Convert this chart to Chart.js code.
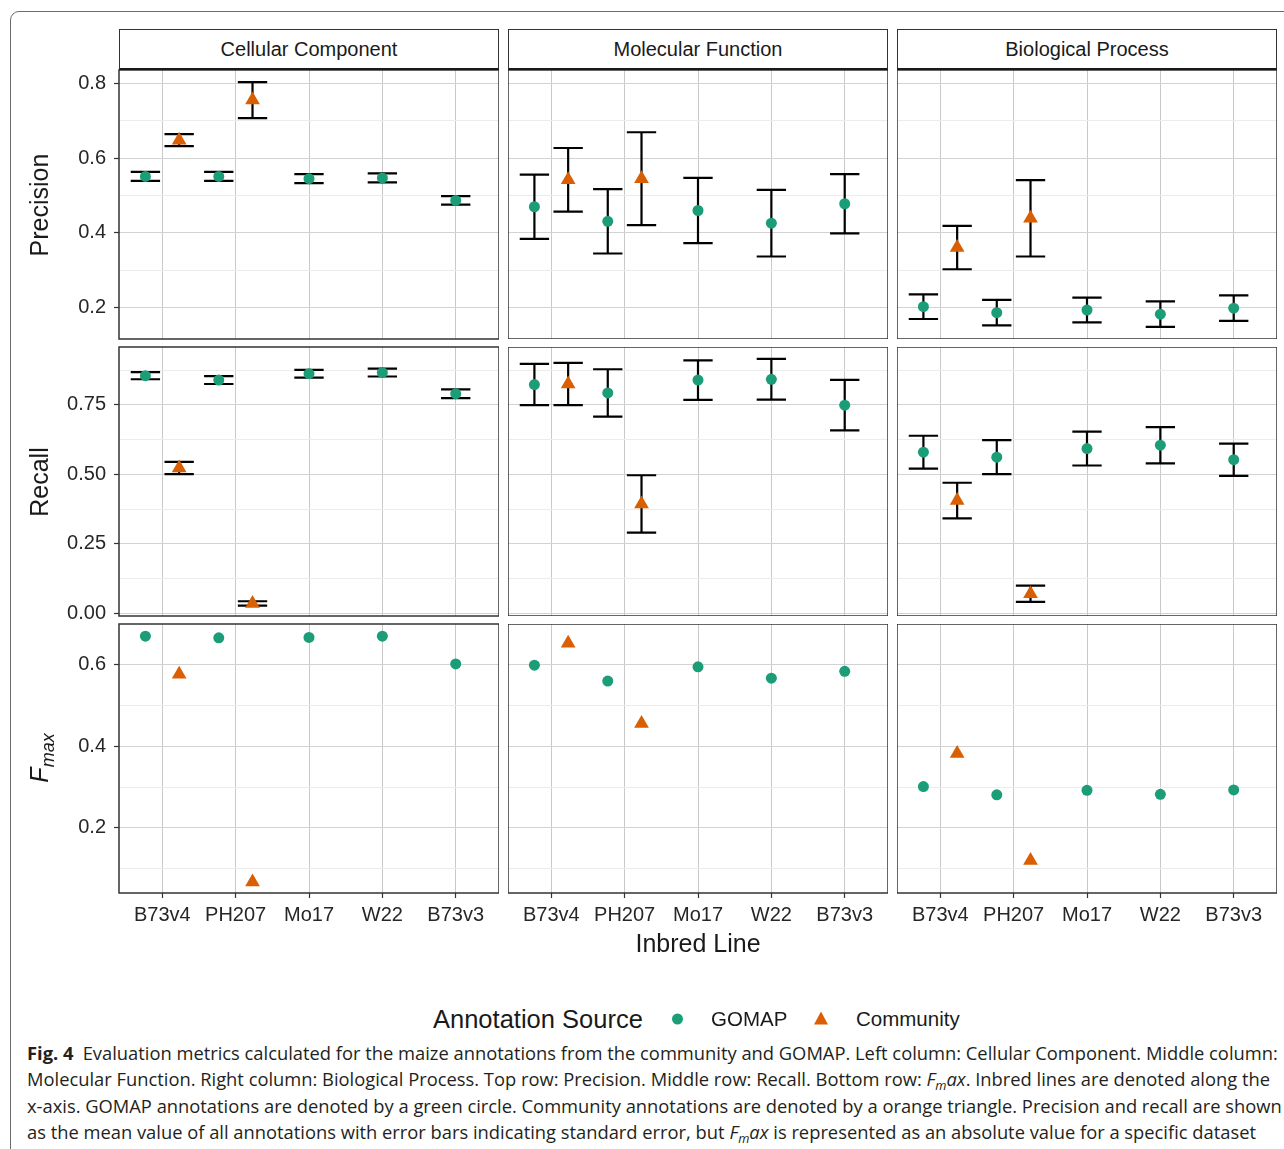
<!DOCTYPE html>
<html>
<head>
<meta charset="utf-8">
<script src="https://cdn.jsdelivr.net/npm/chart.js@4.4.1/dist/chart.umd.min.js"></script>
<style>
  html, body { margin: 0; padding: 0; background: #fff; }
  body { width: 1284px; height: 1149px; position: relative; overflow: hidden;
         font-family: 'Liberation Sans', Arial, sans-serif; color: #1a1a1a; }
  .frame { position: absolute; left: 10px; top: 11px; width: 1400px; height: 1300px;
           border: 1.5px solid #6b6b6b; border-radius: 9px; }
  canvas { position: absolute; }
  .strip { position: absolute; top: 29px; height: 41px; width: 380px; box-sizing: border-box;
           border: 1.4px solid #333; border-bottom: 2px solid #1a1a1a; background: #fff;
           font-size: 20px; line-height: 39px; text-align: center; }
  .ytitle { position: absolute; left: 39px; transform: translate(-50%, -50%) rotate(-90deg);
            font-size: 25px; white-space: nowrap; }
  .ytitle sub { font-size: 18px; vertical-align: baseline; position: relative; top: 0.35em; }
  .xtitle { position: absolute; left: 698px; top: 943px; transform: translate(-50%, -50%);
            font-size: 25px; white-space: nowrap; }
  .legend { position: absolute; top: 1019px; transform: translateY(-50%); white-space: nowrap; }
  .caption { position: absolute; left: 27px; height: 26px; line-height: 26px; white-space: nowrap;
             font-family: 'Open Sans', sans-serif; color: #231f20; }
  .caption sub { font-size: 0.7em; vertical-align: baseline; position: relative; top: 0.3em; line-height: 0; }
</style>
</head>
<body>
<div class="frame"></div>
<div id="charts"></div>

<div class="ytitle" style="top:205px">Precision</div>
<div class="ytitle" style="top:482px">Recall</div>
<div class="ytitle" style="top:758px"><i>F</i><sub><i>max</i></sub></div>
<div class="xtitle">Inbred Line</div>

<div class="legend" style="left:433px;font-size:25.5px">Annotation Source</div>
<div class="legend" style="left:672px;width:11px;height:11px;border-radius:50%;background:#1b9e77"></div>
<div class="legend" style="left:711px;font-size:20.5px">GOMAP</div>
<div class="legend" style="left:814px;width:0;height:0;border-left:7.5px solid transparent;border-right:7.5px solid transparent;border-bottom:13px solid #d95f02;margin-top:-1px"></div>
<div class="legend" style="left:856px;font-size:20.5px">Community</div>

<div class="caption" style="top:1040px"><b>Fig. 4</b>&ensp;Evaluation metrics calculated for the maize annotations from the community and GOMAP. Left column: Cellular Component. Middle column:</div>
<div class="caption" style="top:1066px">Molecular Function. Right column: Biological Process. Top row: Precision. Middle row: Recall. Bottom row: <i>F<sub>m</sub>ax</i>. Inbred lines are denoted along the</div>
<div class="caption" style="top:1093px">x-axis. GOMAP annotations are denoted by a green circle. Community annotations are denoted by a orange triangle. Precision and recall are shown</div>
<div class="caption" style="top:1119px">as the mean value of all annotations with error bars indicating standard error, but <i>F<sub>m</sub>ax</i> is represented as an absolute value for a specific dataset</div>

<script>
// --- data ---
const LINES = ['B73v4', 'PH207', 'Mo17', 'W22', 'B73v3'];
const COMMUNITY_LINES = ['B73v4', 'PH207'];
const ONTOLOGIES = ['Cellular Component', 'Molecular Function', 'Biological Process'];

// precision (mean, standard error)
const ccPrecisionGomap = [0.551, 0.551, 0.545, 0.547, 0.487];
const ccPrecisionGomapSe = [0.012, 0.012, 0.012, 0.012, 0.0115];
const ccPrecisionCommunity = [0.648, 0.755];
const ccPrecisionCommunitySe = [0.016, 0.048];
const mfPrecisionGomap = [0.470, 0.431, 0.460, 0.426, 0.478];
const mfPrecisionGomapSe = [0.086, 0.086, 0.087, 0.089, 0.079];
const mfPrecisionCommunity = [0.542, 0.545];
const mfPrecisionCommunitySe = [0.085, 0.124];
const bpPrecisionGomap = [0.203, 0.187, 0.194, 0.183, 0.199];
const bpPrecisionGomapSe = [0.033, 0.034, 0.033, 0.034, 0.034];
const bpPrecisionCommunity = [0.361, 0.439];
const bpPrecisionCommunitySe = [0.058, 0.102];

// recall (mean, standard error)
const ccRecallGomap = [0.855, 0.839, 0.862, 0.866, 0.790];
const ccRecallGomapSe = [0.013, 0.014, 0.014, 0.014, 0.016];
const ccRecallCommunity = [0.523, 0.036];
const ccRecallCommunitySe = [0.022, 0.008];
const mfRecallGomap = [0.823, 0.793, 0.839, 0.842, 0.749];
const mfRecallGomapSe = [0.074, 0.085, 0.071, 0.073, 0.091];
const mfRecallCommunity = [0.825, 0.394];
const mfRecallCommunitySe = [0.076, 0.103];
const bpRecallGomap = [0.580, 0.562, 0.593, 0.605, 0.553];
const bpRecallGomapSe = [0.059, 0.061, 0.061, 0.065, 0.058];
const bpRecallCommunity = [0.406, 0.071];
const bpRecallCommunitySe = [0.064, 0.029];

// Fmax (absolute values)
const ccFmaxGomap = [0.670, 0.666, 0.667, 0.670, 0.602];
const ccFmaxCommunity = [0.577, 0.067];
const mfFmaxGomap = [0.599, 0.560, 0.595, 0.567, 0.584];
const mfFmaxCommunity = [0.653, 0.456];
const bpFmaxGomap = [0.301, 0.281, 0.292, 0.282, 0.293];
const bpFmaxCommunity = [0.382, 0.120];

// axes
const PRECISION_RANGE = [0.1166, 0.8354];
const PRECISION_TICKS = [0.2, 0.4, 0.6, 0.8];
const PRECISION_MINOR = [0.3, 0.5, 0.7];
const RECALL_RANGE = [-0.009, 0.958];
const RECALL_TICKS = [0, 0.25, 0.5, 0.75];
const RECALL_MINOR = [0.125, 0.375, 0.625, 0.875];
const FMAX_RANGE = [0.040, 0.700];
const FMAX_TICKS = [0.2, 0.4, 0.6];
const FMAX_MINOR = [0.1, 0.3, 0.5];

// --- look ---
const GREEN = '#1b9e77';
const ORANGE = '#d95f02';
const COL_X = [119, 508, 897];
const ROW_Y = [70, 347, 624];
const PANEL_W = 380, PANEL_H = 269;
const YAXIS_W = 119, XAXIS_H = 44;
const LABEL_PAD = 14;   // room for y labels that sit on the panel edge
const DODGE = 0.23, CAP = 0.2;

Chart.defaults.font.family = "'Liberation Sans', Arial, sans-serif";

// rows of the facet grid, built from the arrays above
const ROWS = [
  { range: PRECISION_RANGE, ticks: PRECISION_TICKS, minor: PRECISION_MINOR, digits: 1,
    gomap: [ccPrecisionGomap, mfPrecisionGomap, bpPrecisionGomap],
    gomapSe: [ccPrecisionGomapSe, mfPrecisionGomapSe, bpPrecisionGomapSe],
    comm: [ccPrecisionCommunity, mfPrecisionCommunity, bpPrecisionCommunity],
    commSe: [ccPrecisionCommunitySe, mfPrecisionCommunitySe, bpPrecisionCommunitySe] },
  { range: RECALL_RANGE, ticks: RECALL_TICKS, minor: RECALL_MINOR, digits: 2,
    gomap: [ccRecallGomap, mfRecallGomap, bpRecallGomap],
    gomapSe: [ccRecallGomapSe, mfRecallGomapSe, bpRecallGomapSe],
    comm: [ccRecallCommunity, mfRecallCommunity, bpRecallCommunity],
    commSe: [ccRecallCommunitySe, mfRecallCommunitySe, bpRecallCommunitySe] },
  { range: FMAX_RANGE, ticks: FMAX_TICKS, minor: FMAX_MINOR, digits: 1,
    gomap: [ccFmaxGomap, mfFmaxGomap, bpFmaxGomap],
    gomapSe: null,
    comm: [ccFmaxCommunity, mfFmaxCommunity, bpFmaxCommunity],
    commSe: null }
];

// error bars under the points
const errorBars = {
  id: 'errorBars',
  beforeDatasetsDraw(chart) {
    const { ctx, scales: { x, y } } = chart;
    ctx.save();
    ctx.strokeStyle = '#000';
    ctx.lineWidth = 2.2;
    chart.data.datasets.forEach(ds => {
      ds.data.forEach(p => {
        if (p.se == null) return;
        const px = x.getPixelForValue(p.x);
        const x0 = x.getPixelForValue(p.x - CAP);
        const x1 = x.getPixelForValue(p.x + CAP);
        const yTop = y.getPixelForValue(p.y + p.se);
        const yBot = y.getPixelForValue(p.y - p.se);
        ctx.beginPath();
        ctx.moveTo(px, yTop); ctx.lineTo(px, yBot);
        ctx.moveTo(x0, yTop); ctx.lineTo(x1, yTop);
        ctx.moveTo(x0, yBot); ctx.lineTo(x1, yBot);
        ctx.stroke();
      });
    });
    ctx.restore();
  }
};

// panel border
const panelBorder = {
  id: 'panelBorder',
  afterDraw(chart) {
    const { ctx, chartArea: a } = chart;
    ctx.save();
    ctx.strokeStyle = '#333';
    ctx.lineWidth = 1.5;
    ctx.strokeRect(a.left, a.top, a.right - a.left, a.bottom - a.top);
    ctx.restore();
  }
};

const holder = document.getElementById('charts');

// strip headers
ONTOLOGIES.forEach((name, c) => {
  const d = document.createElement('div');
  d.className = 'strip';
  d.style.left = COL_X[c] + 'px';
  d.textContent = name;
  document.body.appendChild(d);
});

ROWS.forEach((row, r) => {
  ONTOLOGIES.forEach((_, c) => {
    const leftAxis = c === 0, bottomAxis = r === ROWS.length - 1;
    const padTop = leftAxis ? LABEL_PAD : 0;
    const padBottom = (leftAxis && !bottomAxis) ? LABEL_PAD : 0;
    const canvas = document.createElement('canvas');
    const w = PANEL_W + (leftAxis ? YAXIS_W : 0);
    const h = PANEL_H + (bottomAxis ? XAXIS_H : 0) + padTop + padBottom;
    canvas.width = w; canvas.height = h;
    canvas.style.left = (COL_X[c] - (leftAxis ? YAXIS_W : 0)) + 'px';
    canvas.style.top = (ROW_Y[r] - padTop) + 'px';
    holder.appendChild(canvas);

    const dodged = l => COMMUNITY_LINES.includes(l) ? DODGE : 0;
    const gomapPts = LINES.map((l, i) => ({
      x: i + 1 - dodged(l), y: row.gomap[c][i], se: row.gomapSe ? row.gomapSe[c][i] : null
    }));
    const commPts = COMMUNITY_LINES.map((l, i) => ({
      x: LINES.indexOf(l) + 1 + DODGE, y: row.comm[c][i], se: row.commSe ? row.commSe[c][i] : null
    }));

    const yTicks = row.ticks.map(v => ({ value: v }))
      .concat(row.minor.map(v => ({ value: v, minor: true })))
      .sort((a, b) => a.value - b.value);

    new Chart(canvas, {
      type: 'scatter',
      data: {
        datasets: [
          { label: 'GOMAP', data: gomapPts, pointStyle: 'circle', pointRadius: 5.5,
            backgroundColor: GREEN, borderWidth: 0, clip: false },
          { label: 'Community', data: commPts, pointStyle: 'triangle', pointRadius: 8.5,
            backgroundColor: ORANGE, borderWidth: 0, clip: false }
        ]
      },
      options: {
        responsive: false,
        animation: false,
        events: [],
        layout: { padding: { top: padTop, bottom: padBottom, left: 0, right: 0 }, autoPadding: false },
        plugins: { legend: { display: false }, tooltip: { enabled: false } },
        scales: {
          x: {
            type: 'linear', min: 0.41, max: 5.59, bounds: 'data',
            afterBuildTicks: s => { s.ticks = LINES.map((_, i) => ({ value: i + 1 })); },
            afterFit: s => {
              s.height = bottomAxis ? XAXIS_H : 0;
              s.paddingLeft = 0; s.paddingRight = 0;
            },
            border: { display: false },
            grid: { color: '#c9c9c9', lineWidth: 1, drawTicks: bottomAxis, tickLength: 5,
                    tickColor: '#333', tickWidth: 1.2 },
            ticks: { display: bottomAxis, autoSkip: false, maxRotation: 0, padding: 5,
                     color: '#262626', font: { size: 20 },
                     callback: v => LINES[Math.round(v) - 1] }
          },
          y: {
            type: 'linear', min: row.range[0], max: row.range[1], bounds: 'data',
            afterBuildTicks: s => { s.ticks = yTicks.map(t => ({ ...t })); },
            afterFit: s => {
              s.width = leftAxis ? YAXIS_W : 0;
              s.paddingTop = 0; s.paddingBottom = 0;
            },
            border: { display: false },
            grid: {
              color: ctx => (ctx.tick && ctx.tick.minor) ? '#ececec' : '#d2d2d2',
              lineWidth: 1, drawTicks: leftAxis, tickLength: 5, tickWidth: 1.2,
              tickColor: ctx => (ctx.tick && ctx.tick.minor) ? 'rgba(0,0,0,0)' : '#333'
            },
            ticks: { display: leftAxis, autoSkip: false, padding: 8,
                     color: '#262626', font: { size: 20 },
                     callback: (v, i, ts) => ts[i].minor ? '' : v.toFixed(row.digits) }
          }
        }
      },
      plugins: [errorBars, panelBorder]
    });
  });
});

// fit the caption lines to the printed width
const caps = document.querySelectorAll('.caption');
caps.forEach(el => { el.style.fontSize = '20px'; });
const size = 20 * 1251 / caps[0].getBoundingClientRect().width;
caps.forEach(el => { el.style.fontSize = size.toFixed(2) + 'px'; });
</script>
</body>
</html>
